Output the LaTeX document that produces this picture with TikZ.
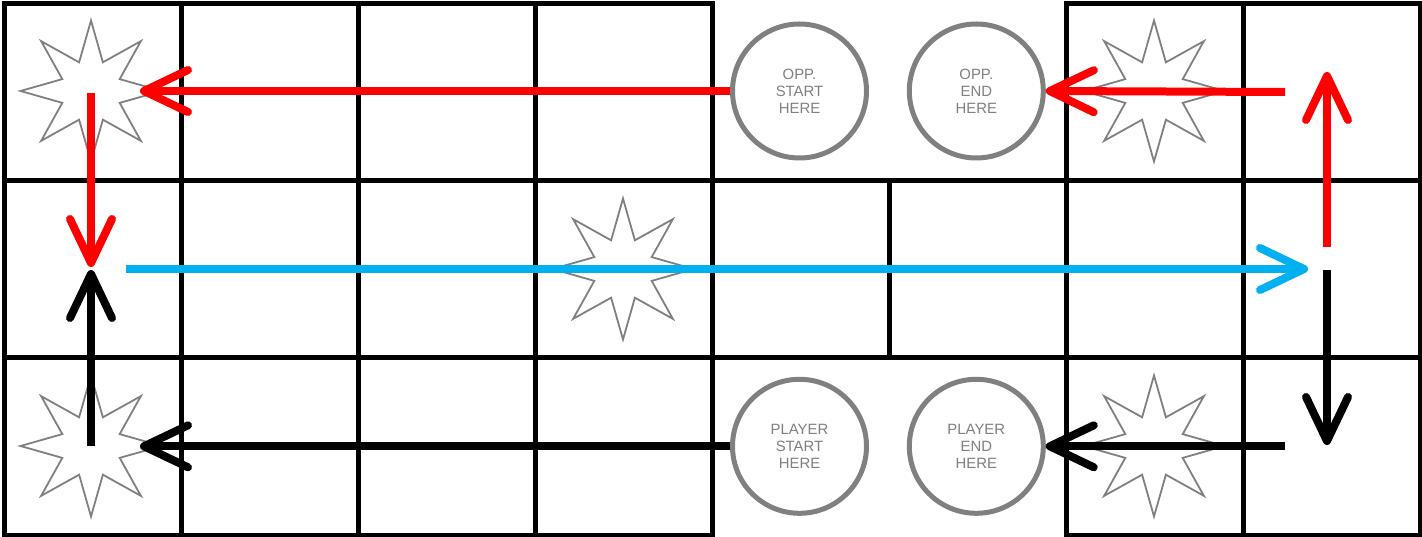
\documentclass[tikz,border=0pt]{standalone}
\usepackage{fontspec}
\setmainfont{Liberation Sans}
\usetikzlibrary{arrows.meta,shapes.geometric}
\definecolor{gridgray}{HTML}{808080}
\definecolor{arrred}{HTML}{FF0000}
\definecolor{arrblue}{HTML}{00B0F0}
\tikzset{
  gridline/.style={line width=5pt, black},
  spot/.style={circle, draw=gridgray, line width=5pt, fill=white, minimum size=134pt, inner sep=0pt,
    text=gridgray, align=center, font=\fontsize{14.9}{17}\selectfont},
  burst/.style={star, star points=8, star point ratio=2.27, minimum size=141pt, inner sep=0pt,
    draw=gridgray, line width=1.8pt, fill=white},
  flow/.style={line width=8pt, -{Straight Barb[length=44pt, width=42pt, round]}},
  redflow/.style={flow, arrred},
  blueflow/.style={flow, arrblue},
  blackflow/.style={flow, black},
}
\begin{document}
\begin{tikzpicture}[x=1pt, y=-1pt]
\useasboundingbox (0,0) rectangle (1422,537);
% grid
\draw[gridline] (4,4) rectangle (712,535);
\draw[gridline] (1066,4) rectangle (1420,535);
\foreach \yy in {181,358} \draw[gridline] (4,\yy) -- (1420,\yy);
\foreach \xx in {181,358,535,1243} \draw[gridline] (\xx,4) -- (\xx,535);
\draw[gridline] (889,181) -- (889,358);
% stars
\node[burst] (s1) at (91,91) {};
\node[burst] (s2) at (91,446) {};
\node[burst] (s3) at (623,269) {};
\node[burst] (s4) at (1154,91) {};
\node[burst] (s5) at (1154,446) {};
% circles
\node[spot] (oppstart) at (799.5,91) {OPP.\\START\\HERE};
\node[spot] (oppend) at (976.3,91) {OPP.\\END\\HERE};
\node[spot] (plstart) at (799.5,446.3) {PLAYER\\START\\HERE};
\node[spot] (plend) at (976.3,446.3) {PLAYER\\END\\HERE};
% arrow end points
\coordinate (tlTip) at (140,91);
\coordinate (trStart) at (1285,92);
\coordinate (rUpStart) at (1327,247);
\coordinate (rUpTip) at (1327,72);
\coordinate (lDownStart) at (91,93);
\coordinate (lDownTip) at (91,267);
\coordinate (blueStart) at (126,269);
\coordinate (blueTip) at (1308,269);
\coordinate (rDownStart) at (1327,270);
\coordinate (rDownTip) at (1327,445);
\coordinate (brStart) at (1285,446.3);
\coordinate (blTip) at (140,446.3);
\coordinate (lUpStart) at (91,446);
\coordinate (lUpTip) at (91,270);
% arrows
\draw[redflow] (oppstart.west) -- (tlTip);
\draw[redflow] (trStart) -- (oppend.east);
\draw[redflow] (rUpStart) -- (rUpTip);
\draw[redflow] (lDownStart) -- (lDownTip);
\draw[blueflow] (blueStart) -- (blueTip);
\draw[blackflow] (rDownStart) -- (rDownTip);
\draw[blackflow] (brStart) -- (plend.east);
\draw[blackflow] (plstart.west) -- (blTip);
\draw[blackflow] (lUpStart) -- (lUpTip);
\end{tikzpicture}
\end{document}
